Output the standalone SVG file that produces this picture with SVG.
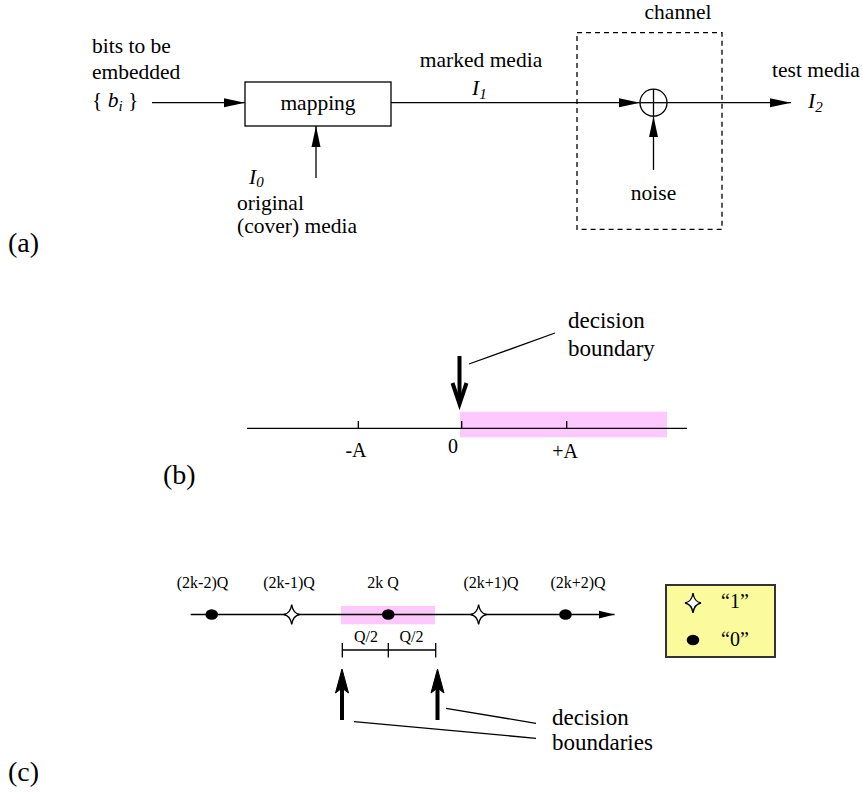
<svg xmlns="http://www.w3.org/2000/svg" width="863" height="794" viewBox="0 0 863 794" font-family="Liberation Serif, DejaVu Serif, serif">
<style>
text{font-family:'Liberation Serif','DejaVu Serif',serif;fill:#000}
.t21{font-size:21.5px}
.t23{font-size:23px}
.t20{font-size:20px}
.t16{font-size:16px}
.lab{font-size:28px}
.it{font-style:italic}
.ln{stroke:#000;stroke-width:1.3;fill:none}
.thick{stroke:#000;stroke-width:4;fill:none}
.pink{fill:#fdc8fd}
</style>
<defs>
<marker id="ah" markerUnits="userSpaceOnUse" markerWidth="22" markerHeight="12" refX="21" refY="5" orient="auto">
<path d="M0,0.5 L21,5 L0,9.5 Z" fill="#000"/>
</marker>
<marker id="ahs" markerUnits="userSpaceOnUse" markerWidth="18" markerHeight="12" refX="16" refY="5" orient="auto">
<path d="M0,1 L16,5 L0,9 Z" fill="#000"/>
</marker>
<path id="star" d="M0,-10 Q1.2,-1.2 8,0 Q1.2,1.2 0,10 Q-1.2,1.2 -8,0 Q-1.2,-1.2 0,-10 Z" fill="#fff" stroke="#000" stroke-width="1.3"/>
</defs>

<!-- (a) -->
<g id="connectors-a">
<line class="ln" x1="152" y1="102.7" x2="245" y2="102.7" marker-end="url(#ah)"/>
<line class="ln" x1="391" y1="102.7" x2="640" y2="102.7" marker-end="url(#ah)"/>
<line class="ln" x1="667" y1="102.7" x2="791" y2="102.7" marker-end="url(#ah)"/>
<line class="ln" x1="316" y1="178" x2="316" y2="126" marker-end="url(#ah)"/>
<line class="ln" x1="653.5" y1="170" x2="653.5" y2="116.2" marker-end="url(#ah)"/>
</g>
<g id="bits">
<text class="t21" x="92" y="53">bits to be</text>
<text class="t21" x="92" y="79">embedded</text>
<text class="t21" x="92" y="107">{ <tspan class="it">b</tspan><tspan class="it" font-size="15" dy="4">i</tspan><tspan dy="-4"> }</tspan></text>
</g>
<g id="mapping">
<rect x="245" y="82" width="146" height="44" fill="#fff" stroke="#000" stroke-width="1.3"/>
<text class="t21" x="318" y="110" text-anchor="middle">mapping</text>
</g>
<g id="original">
<text class="t21 it" x="249" y="184">I<tspan font-size="15" dy="3">0</tspan></text>
<text class="t21" x="237" y="210">original</text>
<text class="t21" x="237" y="233">(cover) media</text>
</g>
<g id="marked">
<text class="t21" x="481" y="67" text-anchor="middle">marked media</text>
<text class="t21 it" x="472" y="95">I<tspan font-size="15" dy="4">1</tspan></text>
</g>
<g id="channel">
<rect x="577" y="32.7" width="145" height="196.6" fill="none" stroke="#000" stroke-width="1.3" stroke-dasharray="5,4"/>
<text class="t21" x="678" y="19" text-anchor="middle">channel</text>
<circle cx="653.5" cy="102.7" r="13.5" fill="#fff" stroke="#000" stroke-width="1.3"/>
<line class="ln" x1="640" y1="102.7" x2="667" y2="102.7"/>
<line class="ln" x1="653.5" y1="89.2" x2="653.5" y2="116.2"/>
<text class="t21" x="653.5" y="200" text-anchor="middle">noise</text>
</g>
<g id="test">
<text class="t21" x="772" y="77">test media</text>
<text class="t21 it" x="808" y="108">I<tspan font-size="15" dy="4">2</tspan></text>
</g>
<text class="lab" x="8" y="252">(a)</text>

<!-- (b) -->
<g id="axis-b">
<rect class="pink" x="460" y="411.7" width="207" height="25.6"/>
<line class="ln" x1="247" y1="428.3" x2="687" y2="428.3"/>
<line class="ln" x1="358.3" y1="421" x2="358.3" y2="428.3"/>
<line class="ln" x1="461.7" y1="421" x2="461.7" y2="428.3"/>
<line class="ln" x1="566.7" y1="421" x2="566.7" y2="428.3"/>
<text class="t20" x="356" y="457" text-anchor="middle">-A</text>
<text class="t20" x="453" y="453" text-anchor="middle">0</text>
<text class="t20" x="565" y="458" text-anchor="middle">+A</text>
</g>
<g id="boundary-b">
<line class="thick" x1="459.5" y1="356" x2="459.5" y2="402"/>
<polyline class="thick" points="452.5,383 459.5,404 466.5,383" stroke-linejoin="miter"/>
<line class="ln" x1="469" y1="364" x2="555" y2="333"/>
<text class="t23" x="568" y="328">decision</text>
<text class="t23" x="568" y="356">boundary</text>
</g>
<text class="lab" x="163" y="484">(b)</text>

<!-- (c) -->
<g id="axis-c">
<rect class="pink" x="341" y="606" width="94" height="18.3"/>
<line class="ln" x1="190.7" y1="614.5" x2="614.5" y2="614.5" marker-end="url(#ahs)"/>
<ellipse cx="211.7" cy="614.5" rx="6.3" ry="5.3"/>
<use href="#star" x="291.7" y="614.5"/>
<ellipse cx="388.3" cy="614.5" rx="6.3" ry="5.3"/>
<use href="#star" x="478.6" y="614.5"/>
<ellipse cx="565.5" cy="614.5" rx="6.3" ry="5.3"/>
<text class="t16" x="202.5" y="588" text-anchor="middle">(2k-2)Q</text>
<text class="t16" x="289" y="588" text-anchor="middle">(2k-1)Q</text>
<text class="t16" x="383" y="588" text-anchor="middle">2k Q</text>
<text class="t16" x="491" y="588" text-anchor="middle">(2k+1)Q</text>
<text class="t16" x="578" y="588" text-anchor="middle">(2k+2)Q</text>
</g>
<g id="halfq">
<line class="ln" x1="342.3" y1="650" x2="435.7" y2="650"/>
<line class="ln" x1="342.3" y1="643" x2="342.3" y2="657.5"/>
<line class="ln" x1="388.3" y1="643" x2="388.3" y2="657.5"/>
<line class="ln" x1="435.7" y1="643" x2="435.7" y2="657.5"/>
<text class="t16" x="366" y="642" text-anchor="middle">Q/2</text>
<text class="t16" x="411.5" y="642" text-anchor="middle">Q/2</text>
</g>
<g id="boundaries-c">
<line class="thick" x1="342" y1="720" x2="342" y2="686"/>
<path d="M342,669 L348.5,693 L342,688 L335.5,693 Z" fill="#000" stroke="#000" stroke-width="1"/>
<line class="thick" x1="437.5" y1="720" x2="437.5" y2="686"/>
<path d="M437.5,669 L444,693 L437.5,688 L431,693 Z" fill="#000" stroke="#000" stroke-width="1"/>
<line class="ln" x1="354" y1="721.7" x2="536" y2="738.3"/>
<line class="ln" x1="446" y1="708.3" x2="536" y2="723.3"/>
<text class="t23" x="552" y="725">decision</text>
<text class="t23" x="552" y="750">boundaries</text>
</g>
<g id="legend">
<rect x="666" y="585" width="109" height="72" fill="#fbfb9d" stroke="#333" stroke-width="2"/>
<use href="#star" x="693" y="603"/>
<text class="t20" x="721" y="608">“1”</text>
<ellipse cx="693" cy="640" rx="6.3" ry="5.3"/>
<text class="t20" x="721" y="646">“0”</text>
</g>
<text class="lab" x="8" y="781">(c)</text>
</svg>
